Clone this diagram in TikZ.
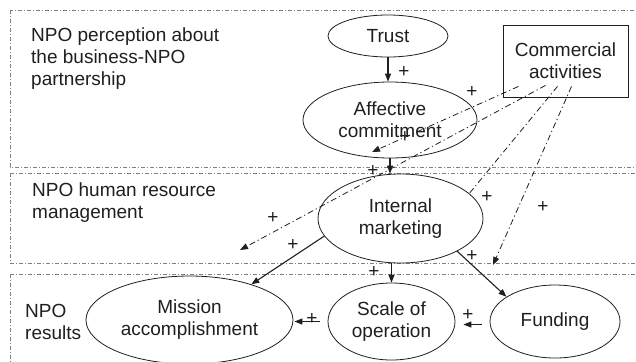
\documentclass[tikz,border=0pt]{standalone}
\usepackage{fontspec}
\setmainfont{Liberation Sans}
\usetikzlibrary{arrows.meta, shapes.geometric}
\definecolor{ink}{gray}{0.12}
\tikzset{
  construct/.style = {draw, ellipse, inner sep=0pt, align=center, line width=0.8bp},
  boxnode/.style = {draw, rectangle, inner sep=0pt, align=center, line width=0.8bp},
  link/.style = {-{Triangle[length=8bp, width=6bp]}, line width=1.1bp},
  moderate/.style = {line width=0.8bp, dash pattern=on 6bp off 3bp on 1.2bp off 3bp},
  modarrow/.style = {moderate, -{Triangle[length=8bp, width=6bp]}},
  sign/.style = {inner sep=0pt},
  panel/.style = {gray, line width=0.6bp, dash pattern=on 4bp off 2bp on 1bp off 2bp},
  paneltext/.style = {anchor=north west, align=left, inner sep=0pt}
}

\begin{document}
\begin{tikzpicture}[x=1bp, y=-1bp, ink, font=\fontsize{19bp}{22bp}\selectfont]

  \clip (0,0) rectangle (636,361);

  %% Panels
  \draw[panel] (10,10) rectangle (660,167);
  \draw[panel] (10,173) rectangle (660,263);
  \draw[panel] (10,274) rectangle (660,400);

  \node[paneltext] (perception) at (31,28) {NPO perception about\\the business-NPO\\partnership};
  \node[paneltext] (hrm) at (32,183) {NPO human resource\\management};
  \node[paneltext] (results) at (25,304) {NPO\\results};

  %% Constructs
  \node[construct, minimum width=120bp, minimum height=42bp] (trust) at (388,36) {Trust};
  \node[construct, minimum width=174bp, minimum height=76bp] (affect) at (390,120) {Affective\\commitment};
  \node[boxnode, minimum width=125bp, minimum height=72bp] (commerce) at (565.5,61) {Commercial\\activities};
  \node[construct, minimum width=165bp, minimum height=89bp] (internal) at (400.5,218.5) {Internal\\marketing};
  \node[construct, minimum width=207bp, minimum height=88bp] (mission) at (189.5,320) {Mission\\accomplishment};
  \node[construct, minimum width=127bp, minimum height=77bp] (scale) at (391.5,321.5) {Scale of\\operation};
  \node[construct, minimum width=130bp, minimum height=73bp] (funding) at (555,321.5) {Funding};

  %% Direct effects
  \draw[link] (trust.south) -- (trust.south |- affect.north);
  \draw[link] (affect.south) -- (affect.south |- internal.north);
  \draw[link] (internal.193) -- (mission.30);
  \draw[link] (scale.north |- internal.south) -- (scale.north);
  \draw[link] (internal.330) -- (funding.153);
  \draw[link, shorten <=8bp, shorten >=8bp] ([yshift=-3bp]funding.west) -- ([yshift=-3bp]scale.east);
  \draw[link, shorten <=8bp, shorten >=1bp] (scale.west) -- (scale.west -| mission.east);

  %% Moderating effects of commercial activities
  \coordinate (tipA) at (372,152);
  \coordinate (tipB) at (240,250);
  \coordinate (tipD) at (493,265);
  \draw[modarrow] ([xshift=-47bp, yshift=11bp]commerce.south) -- (tipA);
  \draw[modarrow] ([xshift=-20bp, yshift=12bp]commerce.south) -- (tipB);
  \draw[moderate] ([xshift=-8bp, yshift=11bp]commerce.south) -- (internal.20);
  \draw[modarrow] ([xshift=6bp, yshift=11bp]commerce.south) -- (tipD);

  %% Signs
  \node[sign] (s1) at (404,72) {+};
  \node[sign] (s2) at (472,92) {+};
  \node[sign] (s3) at (405,137) {+};
  \node[sign] (s4) at (373,171) {+};
  \node[sign] (s5) at (273,218) {+};
  \node[sign] (s6) at (293,245) {+};
  \node[sign] (s7) at (487,197) {+};
  \node[sign] (s8) at (543,207) {+};
  \node[sign] (s9) at (472,256) {+};
  \node[sign] (s10) at (374,272) {+};
  \node[sign] (s11) at (468,315) {+};
  \node[sign] (s12) at (312,319) {+};

\end{tikzpicture}
\end{document}
